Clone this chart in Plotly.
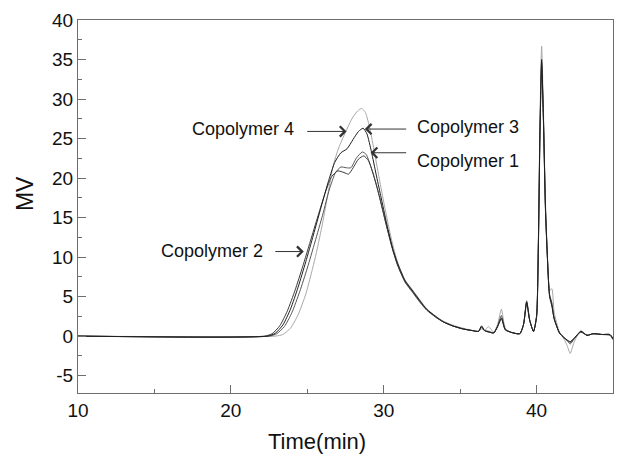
import plotly.graph_objects as go

# ---------------- data ----------------
t_c2 = [10, 22.2, 22.7, 23.2, 23.7, 24.2, 24.7, 25.2, 25.7, 26.2, 26.6, 27.0, 27.4, 27.7, 28.0, 28.35, 28.7,
        29.0, 29.3, 29.7, 30.1, 30.5, 30.9, 31.4, 31.9, 32.4, 32.8, 33.4, 33.9, 34.5, 35.2, 35.8, 36.2, 36.4,
        36.6, 36.9, 37.2, 37.45, 37.7, 37.95, 38.3, 38.9, 39.15, 39.35, 39.55, 39.8, 40.0, 40.12, 40.22, 40.33,
        40.45, 40.58, 40.7, 40.85, 41.0, 41.15, 41.5, 41.8, 42.0, 42.2, 42.45, 42.9, 43.3, 43.7, 44.3, 44.8, 45.0]
y_c2 = [0, 0, 0.3, 1.3, 3.2, 5.8, 8.8, 12.0, 15.2, 18.3, 20.2, 20.9, 20.7, 20.5, 21.3, 22.4, 22.8,
        22.2, 20.6, 17.8, 14.6, 11.6, 9.0, 6.9, 5.6, 4.3, 3.4, 2.4, 1.8, 1.3, 0.9, 0.7, 0.6, 1.1,
        0.7, 0.5, 0.4, 1.2, 2.3, 0.8, 0.5, 0.3, 1.5, 4.2, 2.0, 0.6, 2.4, 11.5, 25.0, 34.3,
        27.0, 16.0, 10.2, 5.2, 4.0, 2.2, 0.4, -0.2, -0.5, -0.8, -0.3, 0.5, 0.1, 0.3, 0.2, 0.1, -0.4]

t_c1 = [10, 22.5, 23.0, 23.5, 24.0, 24.5, 25.0, 25.5, 26.0, 26.45, 26.85, 27.2, 27.55, 27.85, 28.2, 28.6,
        28.85, 29.15, 29.5, 29.8, 30.2, 30.6, 30.95, 31.4, 31.9, 32.4, 32.8, 33.4, 33.9, 34.5, 35.2, 35.8, 36.2,
        36.4, 36.6, 36.9, 37.2, 37.45, 37.7, 37.95, 38.3, 38.9, 39.15, 39.35, 39.55, 39.8, 40.0, 40.12, 40.22,
        40.33, 40.45, 40.58, 40.7, 40.85, 41.0, 41.15, 41.5, 41.8, 42.0, 42.2, 42.45, 42.9, 43.3, 43.7, 44.3,
        44.8, 45.0]
y_c1 = [0, 0, 0.3, 1.2, 3.0, 5.6, 8.6, 11.9, 15.3, 18.6, 20.7, 21.4, 21.3, 21.3, 22.5, 23.3,
        23.0, 21.5, 19.3, 17.0, 13.8, 10.8, 8.8, 6.8, 5.5, 4.2, 3.3, 2.4, 1.8, 1.3, 0.9, 0.7, 0.6,
        1.2, 0.7, 0.6, 0.4, 1.3, 2.6, 0.9, 0.5, 0.3, 1.5, 4.4, 2.0, 0.6, 2.5, 12.0, 25.5,
        34.7, 27.5, 16.5, 10.4, 5.3, 4.2, 2.3, 0.4, -0.2, -0.6, -1.0, -0.4, 0.6, 0.1, 0.3, 0.2,
        0.2, -0.3]

t_c3 = [10, 22.4, 22.9, 23.4, 23.9, 24.4, 24.9, 25.4, 25.9, 26.4, 26.8, 27.2, 27.6, 28.0, 28.35, 28.65,
        28.9, 29.2, 29.5, 29.8, 30.2, 30.6, 30.95, 31.4, 31.9, 32.4, 32.8, 33.4, 33.9, 34.5, 35.2, 35.8, 36.2,
        36.4, 36.6, 36.9, 37.2, 37.45, 37.7, 37.95, 38.3, 38.9, 39.15, 39.35, 39.55, 39.8, 40.0, 40.12, 40.22,
        40.33, 40.45, 40.58, 40.7, 40.85, 41.0, 41.15, 41.5, 41.8, 42.0, 42.2, 42.45, 42.9, 43.3, 43.7, 44.3,
        44.8, 45.0]
y_c3 = [0, 0, 0.35, 1.4, 3.4, 6.2, 9.4, 12.8, 16.3, 19.7, 22.0, 23.2, 23.7, 24.9, 25.9, 26.3,
        25.6, 23.3, 20.5, 17.8, 14.2, 11.0, 9.0, 7.0, 5.7, 4.4, 3.4, 2.5, 1.8, 1.3, 0.9, 0.7, 0.6,
        1.3, 0.7, 0.5, 0.4, 1.2, 2.2, 0.8, 0.5, 0.3, 1.5, 4.3, 2.0, 0.6, 2.5, 12.0, 26.0,
        35.0, 27.5, 16.2, 10.4, 5.0, 3.8, 2.2, 0.4, -0.2, -0.5, -0.7, -0.3, 0.6, 0.1, 0.3, 0.2,
        0.2, -0.3]

t_c4 = [10, 22.9, 23.4, 23.9, 24.4, 24.9, 25.3, 25.6, 26.0, 26.35, 26.7, 27.05, 27.5, 27.95, 28.3, 28.55,
        28.8, 29.1, 29.4, 29.75, 30.1, 30.5, 30.9, 31.4, 31.9, 32.4, 32.8, 33.4, 33.9, 34.5, 35.2, 35.8, 36.2,
        36.4, 36.6, 36.85, 37.2, 37.45, 37.7, 37.95, 38.3, 38.9, 39.15, 39.35, 39.55, 39.8, 40.0, 40.12, 40.22,
        40.33, 40.45, 40.58, 40.7, 40.85, 41.0, 41.15, 41.5, 41.8, 42.0, 42.2, 42.45, 42.9, 43.3, 43.7, 44.3,
        44.8, 45.0]
y_c4 = [0, 0, 0.2, 1.0, 2.7, 5.3, 8.2, 10.6, 14.3, 18.0, 21.6, 23.8, 25.8, 27.6, 28.5, 28.8,
        28.3, 26.2, 23.2, 19.5, 16.0, 12.3, 9.4, 7.1, 5.8, 4.5, 3.5, 2.5, 1.9, 1.4, 1.0, 0.7, 0.6,
        0.9, 0.7, 1.2, 0.5, 1.5, 3.4, 1.0, 0.5, 0.3, 1.5, 4.5, 2.1, 0.6, 2.6, 12.5, 27.0,
        36.7, 28.5, 17.0, 10.8, 5.8, 6.0, 3.0, 0.5, -0.4, -1.2, -2.2, -0.8, 0.7, 0.1, 0.3, 0.2,
        0.2, -0.5]

series_names = ["Copolymer 1", "Copolymer 2", "Copolymer 3", "Copolymer 4"]
x_range = [10, 45]
y_range = [-7.2, 40]
x_ticks = [10, 20, 30, 40]
y_ticks = [-5, 0, 5, 10, 15, 20, 25, 30, 35, 40]
x_title = "Time(min)"
y_title = "MV"

# label text positions (data coords) and arrow tail/tip
label_pos = {
    "Copolymer 4": (24.29, 26.25, "right"),
    "Copolymer 2": (22.22, 10.8, "right"),
    "Copolymer 3": (32.04, 26.5, "left"),
    "Copolymer 1": (32.04, 22.2, "left"),
}
arrows = {
    "Copolymer 4": ((24.90, 25.9), (27.57, 25.9)),
    "Copolymer 2": ((22.81, 10.7), (24.77, 10.7)),
    "Copolymer 3": ((31.57, 26.2), (28.76, 26.2)),
    "Copolymer 1": ((31.57, 23.2), (29.14, 23.2)),
}

FONT = "Liberation Sans, Arial, sans-serif"
fig = go.Figure()

traces = [
    (t_c4, y_c4, "Copolymer 4", "#a8a8a8"),
    (t_c1, y_c1, "Copolymer 1", "#555555"),
    (t_c2, y_c2, "Copolymer 2", "#3a3a3a"),
    (t_c3, y_c3, "Copolymer 3", "#1e1e1e"),
]
for t, y, name, col in traces:
    fig.add_trace(go.Scatter(x=t, y=y, mode="lines", name=name,
                             line=dict(color=col, width=1.0, shape="spline", smoothing=0.6)))

ann = []
for name in series_names:
    x, y, anchor = label_pos[name]
    ann.append(dict(x=x, y=y, xref="x", yref="y", text=name, showarrow=False,
                    xanchor=anchor, yanchor="middle",
                    font=dict(family=FONT, size=18, color="#111111")))
    (ax, ay), (tx, ty) = arrows[name]
    ann.append(dict(x=tx, y=ty, xref="x", yref="y", ax=ax, ay=ay, axref="x", ayref="y",
                    text="", showarrow=True, arrowhead=4, arrowsize=2.0, arrowwidth=1,
                    arrowcolor="#333333", standoff=0, startstandoff=0))

# axis titles as paper annotations (placed as in the reference)
ann.append(dict(x=0.446, y=-0.1306, xref="paper", yref="paper", text=x_title, showarrow=False,
                xanchor="center", yanchor="middle", font=dict(family=FONT, size=22, color="#111111")))
ann.append(dict(x=-0.099, y=0.5335, xref="paper", yref="paper", text=y_title, showarrow=False,
                textangle=-90, xanchor="center", yanchor="middle",
                font=dict(family=FONT, size=23, color="#111111")))

axis_common = dict(showgrid=False, zeroline=False, showline=True, linecolor="#6e6e6e",
                   linewidth=1.3, mirror=True, ticks="inside", ticklen=8, tickwidth=1.2,
                   tickcolor="#6e6e6e",
                   tickfont=dict(family=FONT, size=19, color="#111111"))

fig.update_layout(
    width=617, height=454,
    margin=dict(l=78, r=4, t=20, b=61),
    paper_bgcolor="white", plot_bgcolor="white",
    showlegend=False,
    annotations=ann,
    xaxis=dict(range=x_range, tickvals=x_ticks, ticktext=[str(v) for v in x_ticks],
               minor=dict(dtick=5, tick0=10, ticks="inside", ticklen=4, tickcolor="#6e6e6e"),
               **axis_common),
    yaxis=dict(range=y_range, tickvals=y_ticks, ticktext=[str(v) for v in y_ticks],
               minor=dict(dtick=2.5, tick0=0, ticks="inside", ticklen=4, tickcolor="#6e6e6e"),
               **axis_common),
)

fig.write_html("out.html")
